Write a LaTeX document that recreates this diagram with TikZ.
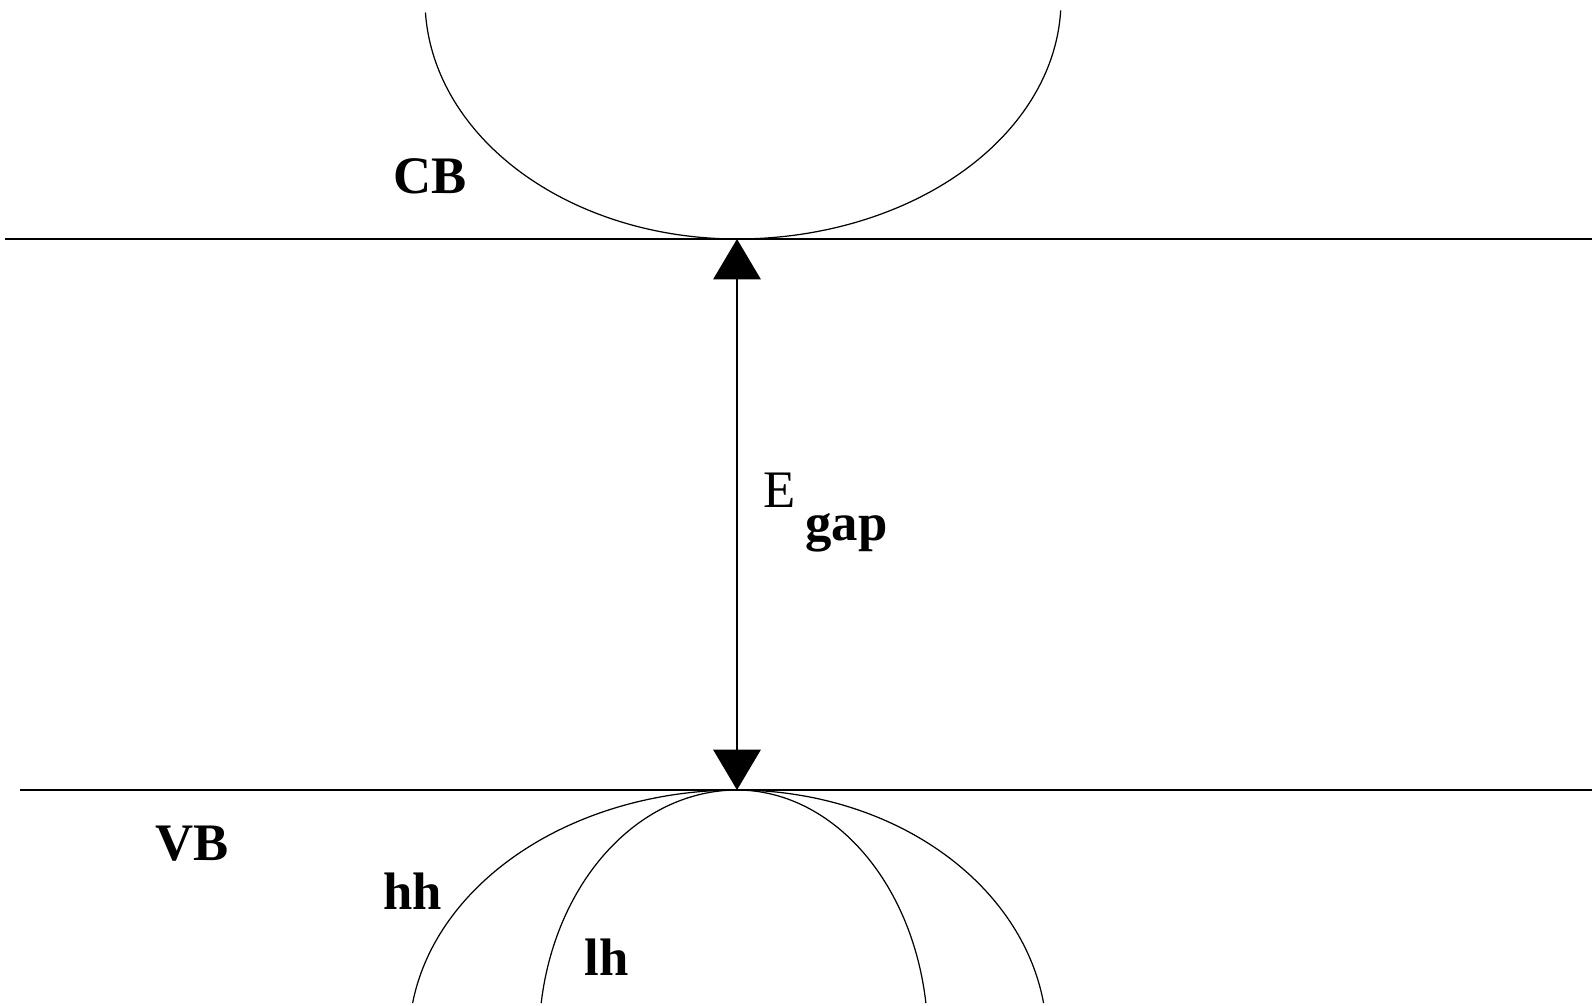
\documentclass[tikz,border=0pt]{standalone}
\usepackage{fontspec}
\setmainfont{Liberation Serif}
\usetikzlibrary{arrows.meta}
\begin{document}
\begin{tikzpicture}[x=0.02cm,y=-0.02cm,
  band/.style={line width=0.6pt},
  vbline/.style={line width=1.5pt},
  curve/.style={line width=0.7pt},
  gaparrow/.style={line width=1.1pt,{Triangle[width=27pt,length=23pt]}-{Triangle[width=27pt,length=23pt]}},
  lbl/.style={inner sep=0pt,anchor=base west,font=\fontsize{30}{36}\selectfont\bfseries},
  lblr/.style={inner sep=0pt,anchor=base west,font=\fontsize{30}{36}\selectfont}]
\useasboundingbox (0,0) rectangle (1592,1005);
% band edges
\coordinate (cbl) at (5,239);
\coordinate (cbr) at (1592,239);
\coordinate (vbl) at (20,790);
\coordinate (vbr) at (1592,790);
\coordinate (cbmin) at (737,239);
\coordinate (vbmax) at (737,790);
\draw[band] (cbl) -- (cbr);
\draw[vbline] (vbl) -- (vbr);
% conduction band
\draw[curve] plot[domain=3:90,samples=80,variable=\t] ({737-312*cos(\t)},{239*sin(\t)});
\draw[curve] plot[domain=90:177.5,samples=80,variable=\t] ({737-324*cos(\t)},{239*sin(\t)});
% heavy hole
\draw[curve] plot[domain=8.5:90,samples=80,variable=\t] ({737-328*cos(\t)},{1040-250*sin(\t)});
\draw[curve] plot[domain=90:171.5,samples=80,variable=\t] ({737-310*cos(\t)},{1040-250*sin(\t)});
% light hole
\draw[curve] plot[domain=8.5:90,samples=80,variable=\t] ({737-198*cos(\t)},{1040-250*sin(\t)});
\draw[curve] plot[domain=90:171.5,samples=80,variable=\t] ({737-191*cos(\t)},{1040-250*sin(\t)});
% gap arrow
\draw[gaparrow] (cbmin) -- (vbmax);
% labels
\node[lbl] (cb) at (393,193) {CB};
\node[lbl] (vb) at (155,860) {VB};
\node[lbl] (hh) at (383,909) {hh};
\node[lbl] (lh) at (584,975) {lh};
\node[lblr] (e) at (763,507) {E};
\node[lbl] (gap) at (805,540) {gap};
\end{tikzpicture}
\end{document}
